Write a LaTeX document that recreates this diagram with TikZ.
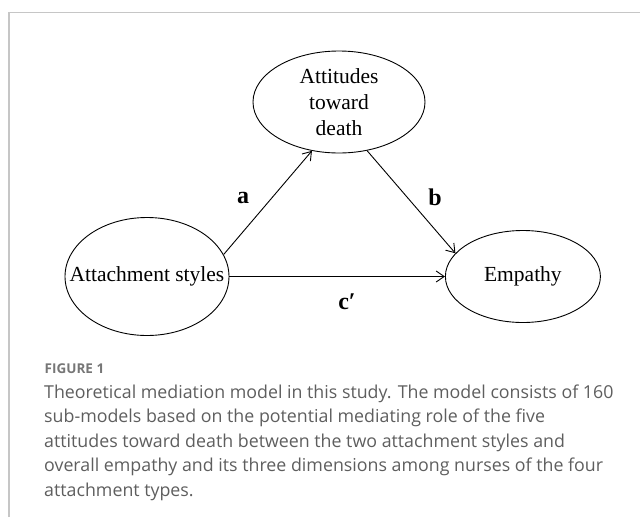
\documentclass[tikz,border=0pt]{standalone}
\usepackage{fontspec}
\setmainfont{Liberation Serif}
\newfontfamily\capfont{Open Sans}
\usetikzlibrary{arrows.meta,positioning,shapes.geometric}
\definecolor{framegray}{HTML}{C6C6C6}
\definecolor{capgray}{HTML}{5E5E5E}

\begin{document}
\begin{tikzpicture}[
  x=1pt,y=-1pt,
  >={Straight Barb[length=8pt,width=11pt]},
  oval/.style={ellipse,draw,line width=0.9pt,inner sep=0pt},
  ovaltext/.style={font=\fontsize{21.5}{26}\selectfont,align=center,inner sep=0pt},
  link/.style={->,line width=0.9pt},
  coef/.style={font=\fontsize{24}{28}\selectfont\bfseries,inner sep=0pt},
  captext/.style={font=\capfont\fontsize{17.8}{24.5}\selectfont,text=capgray,
    align=left,inner sep=0pt}
]
  \useasboundingbox (0,0) rectangle (640,517);
  \draw[framegray,line width=1.2pt] (9,517) |- (640,12.7);

  \node[oval,minimum width=172pt,minimum height=102pt,
    label={[ovaltext]center:Attitudes\\toward\\death}] (death) at (339,102) {};
  \node[oval,minimum width=164pt,minimum height=118pt,
    label={[ovaltext]center:Attachment styles}] (style) at (147,276.5) {};
  \node[oval,minimum width=155pt,minimum height=92pt,
    label={[ovaltext]center:Empathy},right=215.5pt of style] (empathy) {};

  \draw[link] (style.16) -- (death.241);
  \draw[link] (death.300) -- (empathy.161);
  \draw[link] (style.east) -- (empathy.west);

  \node[coef] (pa) at (243,198) {a};
  \node[coef] (pb) at (435,197) {b};
  \node[coef] (pc) at (347,302) {c′};

  % caption
  \node[anchor=base west,font=\capfont\bfseries\fontsize{13.5}{15}\selectfont,
    text=capgray!85,inner sep=0pt] (fig) at (44.5,373) {FIGURE 1};
  \node[captext,anchor=north west] (cap) at (44,384.5)
    {Theoretical mediation model in this study. The model consists of 160\\
     sub-models based on the potential mediating role of the five\\
     attitudes toward death between the two attachment styles and\\
     overall empathy and its three dimensions among nurses of the four\\
     attachment types.};
\end{tikzpicture}
\end{document}
